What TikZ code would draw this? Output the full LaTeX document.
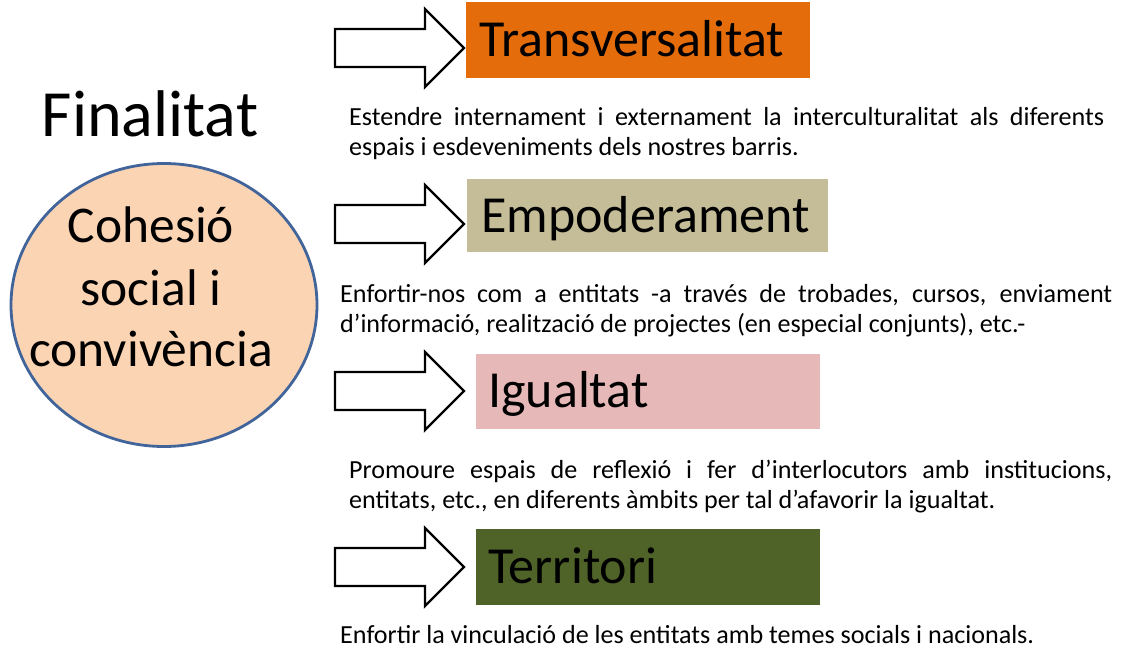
\documentclass[tikz,border=0pt]{standalone}
\usepackage{fontspec}
\setmainfont{Carlito}
\usetikzlibrary{shapes.geometric}
\definecolor{orangebox}{HTML}{E46C0A}
\definecolor{tanbox}{HTML}{C4BD97}
\definecolor{pinkbox}{HTML}{E6B9B8}
\definecolor{greenbox}{HTML}{4F6228}
\definecolor{peach}{HTML}{FBD4B4}
\definecolor{circleblue}{HTML}{41659A}
\tikzset{
  box/.style={rectangle, inner sep=0pt, anchor=north west},
  title/.style={font=\fontsize{52}{62}\selectfont, inner sep=0pt, anchor=base west},
  circtext/.style={font=\fontsize{51.5}{62}\selectfont, inner sep=0pt, anchor=base},
  desc/.style={font=\fontsize{26.1}{31}\selectfont, inner sep=0pt, anchor=base west},
  arrowline/.style={draw=black, fill=white, line width=2.4pt, line join=miter},
  blockarrow/.pic={\path[arrowline] (0,-19) -- (90,-19) -- (90,-39) -- (129,0) -- (90,39) -- (90,19) -- (0,19) -- cycle;}
}
\begin{document}
\begin{tikzpicture}[x=1pt,y=-1pt]
\useasboundingbox (0,0) rectangle (1132,650);
% left side
\node[font=\fontsize{66}{78}\selectfont, inner sep=0pt, anchor=base] (fin) at (150,136) {Finalitat};
\node[ellipse, draw=circleblue, fill=peach, line width=2.8pt, minimum width=306, minimum height=283, inner sep=0pt] (circ) at (164,305) {};
\node[circtext] (c1) at (151,242) {Cohesió};
\node[circtext] (c2) at (151,305) {social i};
\node[circtext] (c3) at (151,366) {convivència};
% arrows
\pic (a1) at (335,48) {blockarrow};
\pic (a2) at (335,224) {blockarrow};
\pic (a3) at (335,391) {blockarrow};
\pic (a4) at (335,567) {blockarrow};
% boxes
\node[box, fill=orangebox, minimum width=344, minimum height=76] (b1) at (466,2) {};
\node[title] (t1) at (479,57) {Transversalitat};
\node[box, fill=tanbox, minimum width=361, minimum height=73] (b2) at (467,179) {};
\node[title] (t2) at (481,232) {Empoderament};
\node[box, fill=pinkbox, minimum width=344, minimum height=75] (b3) at (476,354) {};
\node[title] (t3) at (488,407) {Igualtat};
\node[box, fill=greenbox, minimum width=344, minimum height=76] (b4) at (476,529) {};
\node[title] (t4) at (488,583) {Territori};
% descriptions
\node[desc] (d1a) at (349,125) {\makebox[755pt][s]{Estendre internament i externament la interculturalitat als diferents}};
\node[desc] (d1b) at (349,156) {espais i esdeveniments dels nostres barris.};
\node[desc] (d2a) at (340,302) {\makebox[772pt][s]{Enfortir-nos com a entitats -a través de trobades, cursos, enviament}};
\node[desc] (d2b) at (340,332) {d’informació, realització de projectes (en especial conjunts), etc.-};
\node[desc] (d3a) at (349,478) {\makebox[763pt][s]{Promoure espais de reflexió i fer d’interlocutors amb institucions,}};
\node[desc] (d3b) at (349,508) {entitats, etc., en diferents àmbits per tal d’afavorir la igualtat.};
\node[desc] (d4) at (340,643) {Enfortir la vinculació de les entitats amb temes socials i nacionals.};
\end{tikzpicture}
\end{document}
